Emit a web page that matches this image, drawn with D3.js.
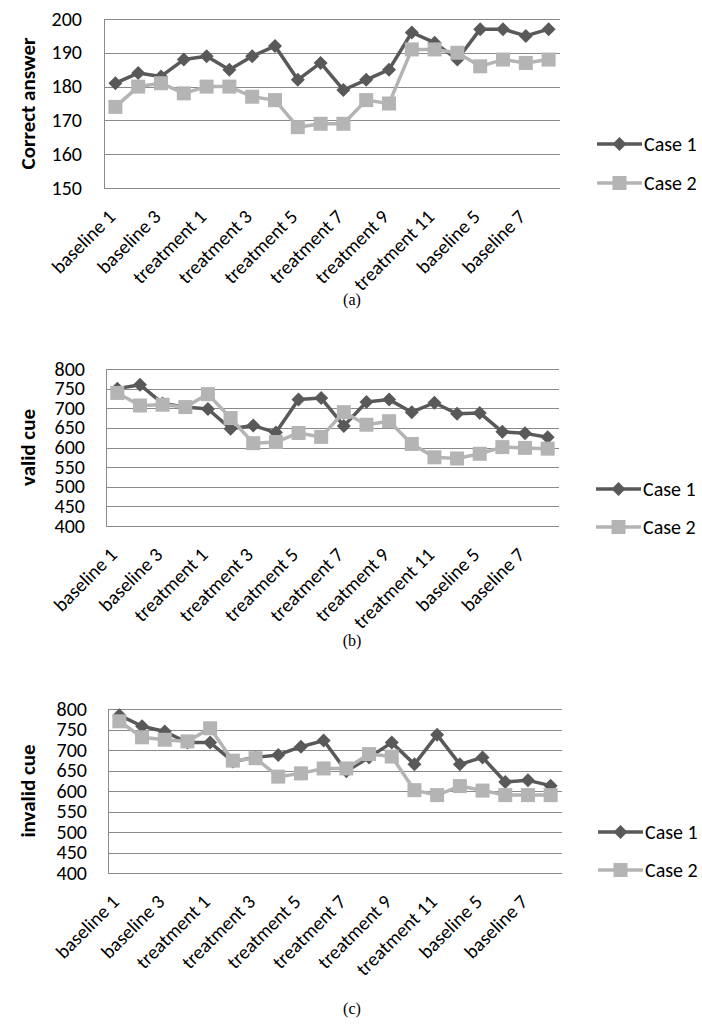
<!DOCTYPE html>
<html><head><meta charset="utf-8">
<script src="https://cdn.jsdelivr.net/npm/d3@7/dist/d3.min.js"></script>
<style>body{margin:0;background:#fff}svg{display:block}</style>
</head><body>
<svg id="chart" width="702" height="1025"></svg>
<script>
const categories = ["baseline 1","baseline 2","baseline 3","baseline 4",
  "treatment 1","treatment 2","treatment 3","treatment 4","treatment 5","treatment 6",
  "treatment 7","treatment 8","treatment 9","treatment 10","treatment 11","treatment 12",
  "baseline 5","baseline 6","baseline 7","baseline 8"];
const tickLabels = ["baseline 1","baseline 3","treatment 1","treatment 3","treatment 5",
  "treatment 7","treatment 9","treatment 11","baseline 5","baseline 7"];
const seriesNames = ["Case 1","Case 2"];

const correctCase1 = [181,184,183,188,189,185,189,192,182,187,179,182,185,196,193,188,197,197,195,197];
const correctCase2 = [174,180,181,178,180,180,177,176,168,169,169,176,175,191,191,190,186,188,187,188];
const validCase1 = [750,760,712,703,698,648,656,638,722,726,655,716,722,690,714,686,688,640,636,626];
const validCase2 = [739,707,709,703,736,675,611,614,637,627,690,658,667,609,575,572,584,601,599,597];
const invalidCase1 = [785,758,745,718,718,672,682,688,708,723,648,682,718,665,737,665,682,622,626,613];
const invalidCase2 = [770,731,725,721,753,674,680,635,643,655,655,690,684,602,590,612,601,590,590,590];

const correctTicks = [150,160,170,180,190,200];
const cueTicks = [400,450,500,550,600,650,700,750,800];
const axisTitles = ["Correct answer","valid cue","invalid cue"];
const captions = ["(a)","(b)","(c)"];

const FONT = "Carlito, Calibri, 'Open Sans', sans-serif";
const colors = ["#595959","#b4b4b4"];
const gridColor = "#8a8a8a";

const panels = [
  {s1: correctCase1, s2: correctCase2, ticks: correctTicks, title: axisTitles[0], cap: captions[0],
   left:104, right:560, top:19, bottom:188, tickRight:82, legX:597, legY:[144,183], capY:305},
  {s1: validCase1, s2: validCase2, ticks: cueTicks, title: axisTitles[1], cap: captions[1],
   left:106, right:559, top:369, bottom:526, tickRight:85, legX:596, legY:[489,527], capY:646},
  {s1: invalidCase1, s2: invalidCase2, ticks: cueTicks, title: axisTitles[2], cap: captions[2],
   left:108, right:562, top:709, bottom:873, tickRight:87, legX:598, legY:[832,870], capY:1014}
];

const svg = d3.select("#chart");

function marker(g, i, x, y) {
  if (i === 0) {
    g.append("path").attr("d", `M${x},${y-7}L${x+7},${y}L${x},${y+7}L${x-7},${y}Z`).attr("fill", colors[0]);
  } else {
    g.append("rect").attr("x", x-7).attr("y", y-7).attr("width", 14).attr("height", 14).attr("fill", colors[1]);
  }
}

panels.forEach(p => {
  const g = svg.append("g");
  const x = d3.scaleBand().domain(categories).range([p.left, p.right]);
  const cx = c => x(c) + x.bandwidth()/2;
  const y = d3.scaleLinear().domain(d3.extent(p.ticks)).range([p.bottom, p.top]);

  g.selectAll(".grid").data(p.ticks).join("line")
    .attr("x1", p.left).attr("x2", p.right)
    .attr("y1", d => Math.round(y(d))+0.5).attr("y2", d => Math.round(y(d))+0.5)
    .attr("stroke", gridColor).attr("stroke-width", 1);
  g.append("line").attr("x1", p.left+0.5).attr("x2", p.left+0.5)
    .attr("y1", p.top).attr("y2", p.bottom).attr("stroke", gridColor);

  g.selectAll(".yt").data(p.ticks).join("text")
    .attr("x", p.tickRight).attr("y", d => y(d)).attr("dy", "0.33em")
    .attr("text-anchor", "end").attr("font-family", FONT).attr("font-size", 20)
    .attr("fill", "#000").text(d => d);

  g.append("text").attr("transform", `translate(35,${(p.top+p.bottom)/2}) rotate(-90)`)
    .attr("text-anchor", "middle").attr("font-family", FONT).attr("font-weight", "bold")
    .attr("font-size", 21).attr("fill", "#000").text(p.title);

  g.selectAll(".xt").data(tickLabels).join("text")
    .attr("transform", d => `translate(${cx(d)+1},${p.bottom+30}) rotate(-45)`)
    .attr("text-anchor", "end").attr("font-family", FONT).attr("font-size", 19.5)
    .attr("fill", "#000").text(d => d);

  const line = d3.line().x((d, i) => cx(categories[i])).y(d => y(d));
  [p.s1, p.s2].forEach((s, si) => {
    g.append("path").datum(s).attr("d", line).attr("fill", "none")
      .attr("stroke", colors[si]).attr("stroke-width", 3.5).attr("stroke-linejoin", "round");
    s.forEach((v, i) => marker(g, si, cx(categories[i]), y(v)));
  });

  seriesNames.forEach((n, si) => {
    const ly = p.legY[si];
    g.append("line").attr("x1", p.legX).attr("x2", p.legX+45).attr("y1", ly).attr("y2", ly)
      .attr("stroke", colors[si]).attr("stroke-width", 3.5);
    marker(g, si, p.legX+22.5, ly);
    g.append("text").attr("x", p.legX+47).attr("y", ly).attr("dy", "0.34em")
      .attr("font-family", FONT).attr("font-size", 20).attr("fill", "#000").text(n);
  });

  g.append("text").attr("x", 352).attr("y", p.capY).attr("text-anchor", "middle")
    .attr("font-family", "'Liberation Serif', 'Times New Roman', serif").attr("font-size", 16)
    .attr("fill", "#000").text(p.cap);
});
</script>
</body></html>
